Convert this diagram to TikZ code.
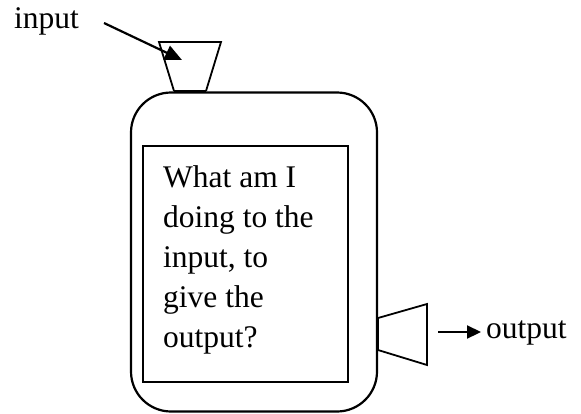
\documentclass[tikz,border=0pt]{standalone}
\usepackage{fontspec}
\setmainfont{Liberation Serif}
\usetikzlibrary{arrows.meta}
\begin{document}
\begin{tikzpicture}[x=1pt,y=-1pt,
  lbl/.style={font=\fontsize{31.5}{40}\selectfont, inner sep=0pt},
  shapeline/.style={draw, line width=1.8pt, line join=miter},
  conn/.style={line width=2.2pt, -{Triangle[length=17pt,width=15pt]}}]
\useasboundingbox (0,0) rectangle (581,413);
% outer rounded body
\node[shapeline, line width=2.2pt, rounded corners=40pt, minimum width=246pt, minimum height=319pt, inner sep=0pt] (body) at (254,252) {};
% inner box
\node[shapeline, line width=2.2pt, minimum width=205pt, minimum height=236pt, inner sep=0pt] (inner) at (245.5,264) {};
% text
\node[lbl, anchor=base west, align=left] (q) at (163,347) {What am I\\doing to the\\input, to\\give the\\output?};
% input funnel
\draw[shapeline] (174,91) -- (159,42) -- (221,42) -- (206,91);
\draw[line width=2.6pt] (174,91) -- (206,91);
% output funnel
\draw[shapeline] (378,318) -- (427,304) -- (427,365) -- (378,350);
\draw[line width=2.6pt] (377.5,318) -- (377.5,350);
% labels
\node[lbl, anchor=base west] (in) at (14,28) {input};
\node[lbl, anchor=base west] (out) at (486,338) {output};
\coordinate (inStart) at (104,23);
\coordinate (inTip) at (182,60);
\coordinate (outStart) at (438,332);
\coordinate (outTip) at (481,332);
\draw[conn] (inStart) -- (inTip);
\draw[conn, -{Triangle[length=14pt,width=13pt]}] (outStart) -- (outTip);
\end{tikzpicture}
\end{document}
